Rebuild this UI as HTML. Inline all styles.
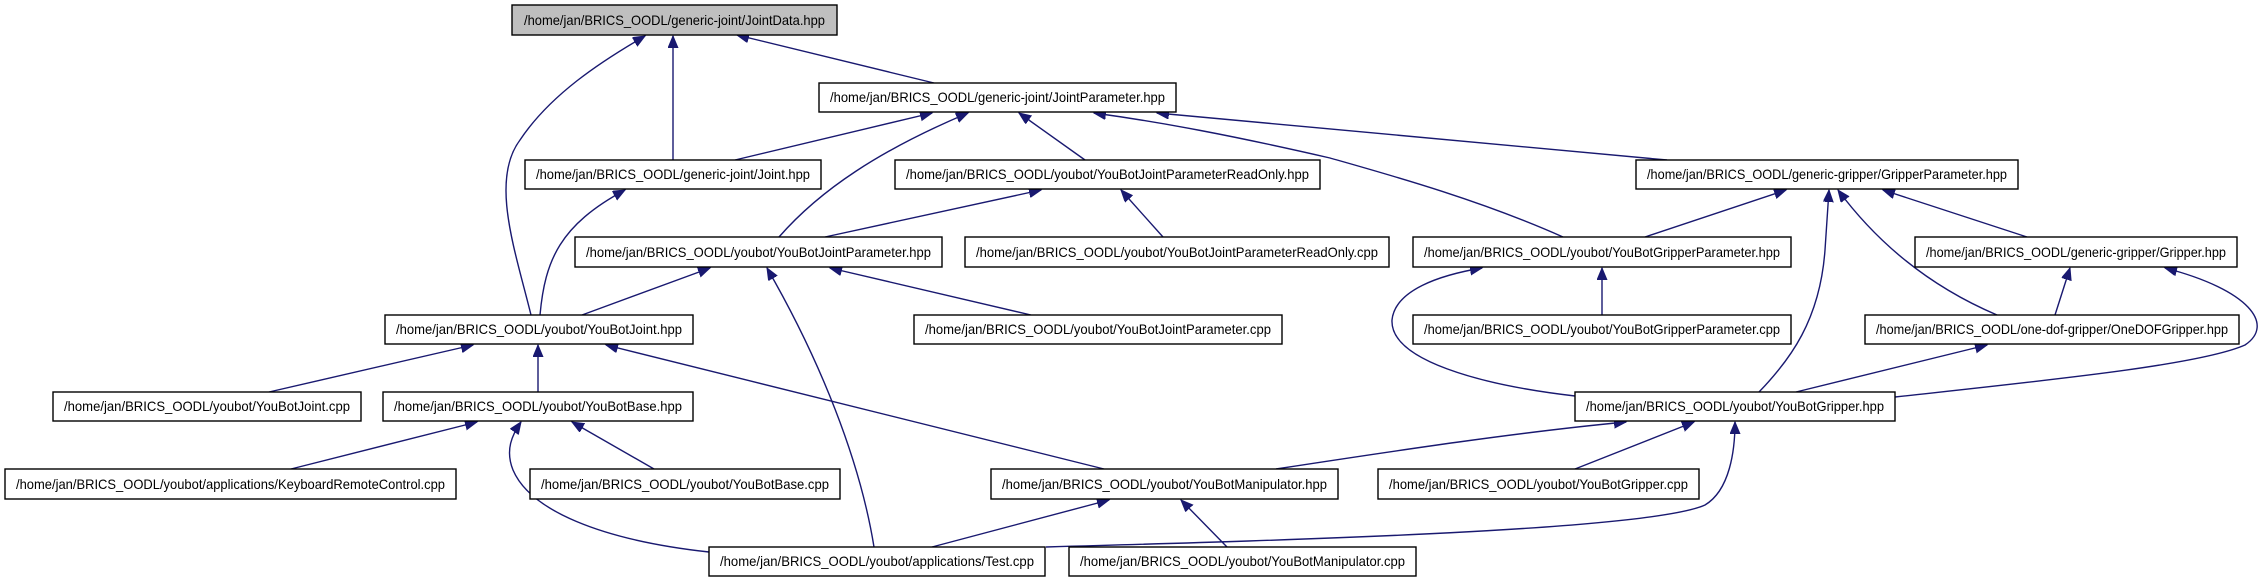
<!DOCTYPE html>
<html><head><meta charset="utf-8"><style>
html,body{margin:0;padding:0;background:#fff;}
svg{display:block}
text{font-family:"Liberation Sans",sans-serif;font-size:14px;fill:#000}
</style></head><body>
<svg width="2264" height="581" viewBox="0 0 2264 581" xmlns="http://www.w3.org/2000/svg">
<defs>
<marker id="a" markerUnits="userSpaceOnUse" markerWidth="14" markerHeight="12" refX="12" refY="5" orient="auto">
<path d="M0,0 L12,5 L0,10 Z" fill="#191970" stroke="#191970"/>
</marker>
</defs>
<g fill="none" stroke="#191970" stroke-width="1.4" marker-end="url(#a)">
<path d="M934,83 L737,35"/>
<path d="M673,160 L673,36"/>
<path d="M531,315 C515,250 490,180 520,140 C550,95 600,62 645,36"/>
<path d="M735,160 L932,113"/>
<path d="M779,237 C820,190 880,150 968,113"/>
<path d="M1085,160 L1019,113"/>
<path d="M1563,237 C1480,200 1390,175 1330,158 C1230,135 1160,122 1094,113"/>
<path d="M1667,160 L1157,113"/>
<path d="M825,237 L1041,190"/>
<path d="M1163,237 L1121,190"/>
<path d="M1645,237 L1786,190"/>
<path d="M1759,392 C1790,360 1820,320 1825,250 L1829,190"/>
<path d="M1997,315 C1950,295 1890,260 1838,190"/>
<path d="M2027,237 L1883,190"/>
<path d="M540,315 C545,260 560,225 625,190"/>
<path d="M582,315 L710,268"/>
<path d="M874,547 C860,460 820,360 767,268"/>
<path d="M1031,315 L830,268"/>
<path d="M1602,315 L1602,268"/>
<path d="M1575,396 C1480,385 1390,360 1392,320 C1395,290 1440,275 1482,268"/>
<path d="M2055,315 L2070,268"/>
<path d="M1895,397 C2050,380 2200,365 2245,345 C2275,325 2250,290 2165,268"/>
<path d="M1796,392 L1987,345"/>
<path d="M269,392 L473,345"/>
<path d="M538,392 L538,345"/>
<path d="M1104,469 L606,345"/>
<path d="M291,469 L477,422"/>
<path d="M654,469 L572,422"/>
<path d="M709,552 C600,540 530,510 513,470 C505,450 512,435 521,422"/>
<path d="M932,547 L1109,500"/>
<path d="M1227,547 L1181,500"/>
<path d="M1276,469 C1400,450 1520,432 1626,422"/>
<path d="M1575,469 L1694,422"/>
<path d="M1046,547 C1300,540 1650,530 1705,505 C1730,490 1735,450 1735,422"/>
</g>
<g stroke="#000" stroke-width="1.4" fill="#fff">
<rect x="512" y="5" width="325" height="30" fill="#bfbfbf"/>
<rect x="819" y="83" width="357" height="29"/>
<rect x="525" y="160" width="296" height="29"/>
<rect x="895" y="160" width="425" height="29"/>
<rect x="1636" y="160" width="382" height="29"/>
<rect x="575" y="237" width="367" height="30"/>
<rect x="965" y="237" width="424" height="30"/>
<rect x="1413" y="237" width="378" height="30"/>
<rect x="1915" y="237" width="322" height="30"/>
<rect x="385" y="315" width="308" height="29"/>
<rect x="914" y="315" width="368" height="29"/>
<rect x="1413" y="315" width="378" height="29"/>
<rect x="1865" y="315" width="374" height="29"/>
<rect x="53" y="392" width="308" height="29"/>
<rect x="383" y="392" width="310" height="29"/>
<rect x="1575" y="392" width="320" height="29"/>
<rect x="5" y="469" width="451" height="30"/>
<rect x="530" y="469" width="310" height="30"/>
<rect x="991" y="469" width="347" height="30"/>
<rect x="1378" y="469" width="321" height="30"/>
<rect x="709" y="547" width="336" height="29"/>
<rect x="1069" y="547" width="347" height="29"/>
</g>
<g text-anchor="middle" lengthAdjust="spacingAndGlyphs">
<text x="674.5" y="25" textLength="301" lengthAdjust="spacingAndGlyphs">/home/jan/BRICS_OODL/generic-joint/JointData.hpp</text>
<text x="997.5" y="102" textLength="335" lengthAdjust="spacingAndGlyphs">/home/jan/BRICS_OODL/generic-joint/JointParameter.hpp</text>
<text x="673" y="179" textLength="274" lengthAdjust="spacingAndGlyphs">/home/jan/BRICS_OODL/generic-joint/Joint.hpp</text>
<text x="1107.5" y="179" textLength="403" lengthAdjust="spacingAndGlyphs">/home/jan/BRICS_OODL/youbot/YouBotJointParameterReadOnly.hpp</text>
<text x="1827" y="179" textLength="360" lengthAdjust="spacingAndGlyphs">/home/jan/BRICS_OODL/generic-gripper/GripperParameter.hpp</text>
<text x="758.5" y="257" textLength="345" lengthAdjust="spacingAndGlyphs">/home/jan/BRICS_OODL/youbot/YouBotJointParameter.hpp</text>
<text x="1177" y="257" textLength="402" lengthAdjust="spacingAndGlyphs">/home/jan/BRICS_OODL/youbot/YouBotJointParameterReadOnly.cpp</text>
<text x="1602" y="257" textLength="356" lengthAdjust="spacingAndGlyphs">/home/jan/BRICS_OODL/youbot/YouBotGripperParameter.hpp</text>
<text x="2076" y="257" textLength="300" lengthAdjust="spacingAndGlyphs">/home/jan/BRICS_OODL/generic-gripper/Gripper.hpp</text>
<text x="539" y="334" textLength="286" lengthAdjust="spacingAndGlyphs">/home/jan/BRICS_OODL/youbot/YouBotJoint.hpp</text>
<text x="1098" y="334" textLength="346" lengthAdjust="spacingAndGlyphs">/home/jan/BRICS_OODL/youbot/YouBotJointParameter.cpp</text>
<text x="1602" y="334" textLength="356" lengthAdjust="spacingAndGlyphs">/home/jan/BRICS_OODL/youbot/YouBotGripperParameter.cpp</text>
<text x="2052" y="334" textLength="352" lengthAdjust="spacingAndGlyphs">/home/jan/BRICS_OODL/one-dof-gripper/OneDOFGripper.hpp</text>
<text x="207" y="411" textLength="286" lengthAdjust="spacingAndGlyphs">/home/jan/BRICS_OODL/youbot/YouBotJoint.cpp</text>
<text x="538" y="411" textLength="288" lengthAdjust="spacingAndGlyphs">/home/jan/BRICS_OODL/youbot/YouBotBase.hpp</text>
<text x="1735" y="411" textLength="298" lengthAdjust="spacingAndGlyphs">/home/jan/BRICS_OODL/youbot/YouBotGripper.hpp</text>
<text x="230.5" y="489" textLength="429" lengthAdjust="spacingAndGlyphs">/home/jan/BRICS_OODL/youbot/applications/KeyboardRemoteControl.cpp</text>
<text x="685" y="489" textLength="288" lengthAdjust="spacingAndGlyphs">/home/jan/BRICS_OODL/youbot/YouBotBase.cpp</text>
<text x="1164.5" y="489" textLength="325" lengthAdjust="spacingAndGlyphs">/home/jan/BRICS_OODL/youbot/YouBotManipulator.hpp</text>
<text x="1538.5" y="489" textLength="299" lengthAdjust="spacingAndGlyphs">/home/jan/BRICS_OODL/youbot/YouBotGripper.cpp</text>
<text x="877" y="566" textLength="314" lengthAdjust="spacingAndGlyphs">/home/jan/BRICS_OODL/youbot/applications/Test.cpp</text>
<text x="1242.5" y="566" textLength="325" lengthAdjust="spacingAndGlyphs">/home/jan/BRICS_OODL/youbot/YouBotManipulator.cpp</text>
</g>
</svg>
</body></html>
